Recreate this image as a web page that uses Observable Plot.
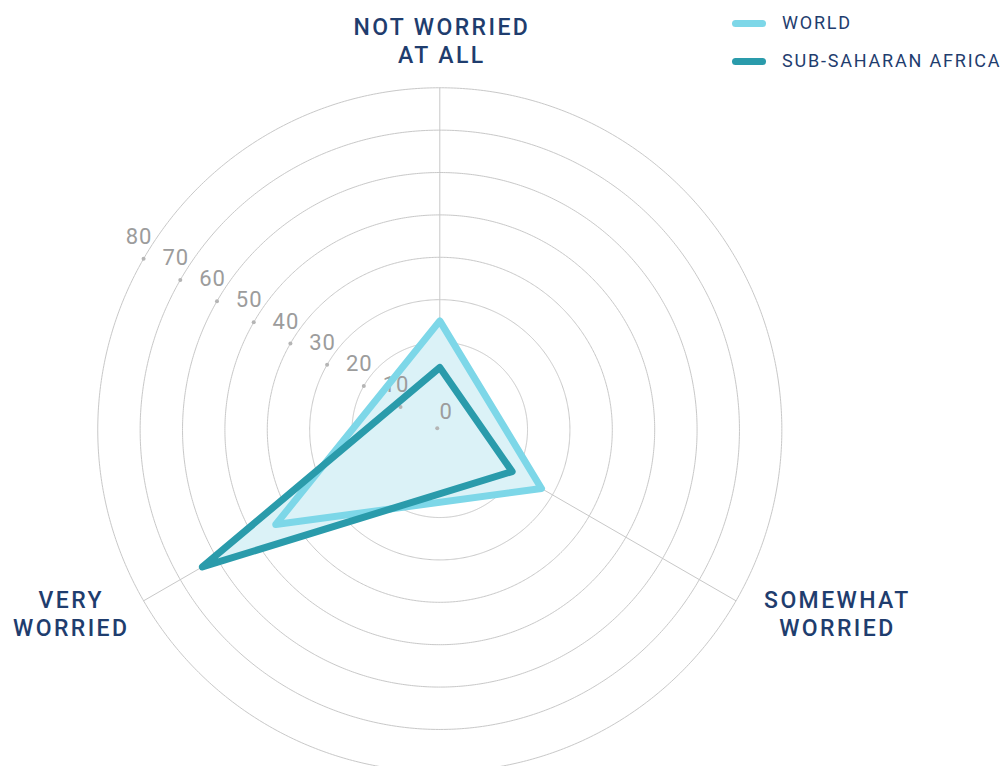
<!DOCTYPE html>
<html>
<head>
<meta charset="utf-8">
<script src="https://cdn.jsdelivr.net/npm/d3@7"></script>
<script src="https://cdn.jsdelivr.net/npm/@observablehq/plot@0.6"></script>
<style>
  html, body { margin: 0; padding: 0; background: #fff; }
  #wrap { position: relative; width: 1002px; height: 766px; overflow: hidden; font-family: Roboto, "Noto Sans", sans-serif; }
  #legend { position: absolute; left: 732px; top: 0; }
  .item { position: absolute; left: 0; display: flex; align-items: center; white-space: nowrap; height: 20px; }
  .sw { display: inline-block; width: 34px; height: 7px; border-radius: 4px; margin-right: 16px; }
  .lab { font-size: 18px; letter-spacing: 1.8px; color: #1f3d6e; line-height: 20px; }
</style>
</head>
<body>
<div id="wrap">
  <div id="chart"></div>
  <div id="legend"></div>
</div>
<script>
// ---- data ----
const categories = ["NOT WORRIED\nAT ALL", "SOMEWHAT\nWORRIED", "VERY\nWORRIED"];
const seriesNames = ["WORLD", "SUB-SAHARAN AFRICA"];
const worldValues = [25, 27, 44];
const ssaValues = [14, 19, 64];
const ringTicks = [0, 10, 20, 30, 40, 50, 60, 70, 80];
const seriesColors = ["#7dd7e8", "#2a9bab"];

// ---- helpers ----
const n = categories.length;
const lon = (i) => 180 - (i * 360) / n;       // clockwise from top
const lat = (v) => 90 - (v + 0.7);
const tickLon = 180 - 300;

const rows = [];
seriesNames.forEach((s, si) => {
  const vals = si === 0 ? worldValues : ssaValues;
  vals.forEach((v, i) => rows.push({series: s, i, value: v}));
});
const worldRows = rows.filter(d => d.series === seriesNames[0]);
const ssaRows = rows.filter(d => d.series === seriesNames[1]);

const catRows = categories.map((c, i) => ({c, i}));
const navy = "#1f3d6e";
const labelFont = {fontSize: 23, fontWeight: 500, fill: navy, lineHeight: 1.2, fontFamily: "Roboto, sans-serif"};

const chart = Plot.plot({
  width: 1002,
  height: 766,
  marginLeft: 108.7,
  marginRight: 232.1,
  marginTop: 98.7,
  marginBottom: 6.1,
  style: {background: "#fff", fontFamily: "Roboto, sans-serif", overflow: "visible"},
  projection: {
    type: "azimuthal-equidistant",
    rotate: [0, -90],
    domain: d3.geoCircle().center([0, 90]).radius(78)(),
    inset: 0,
    clip: false
  },
  marks: [
    // rings
    Plot.geo(ringTicks.filter(d => d > 0), {
      geometry: d => d3.geoCircle().center([0, 90]).radius(d + 0.7).precision(0.5)(),
      fill: "none", stroke: "#c8c8c8", strokeWidth: 1
    }),
    // spokes
    Plot.link(catRows, {
      x1: d => lon(d.i), y1: 90, x2: d => lon(d.i), y2: lat(80),
      stroke: "#c8c8c8", strokeWidth: 1
    }),
    // fills
    Plot.line(worldRows, {x: d => lon(d.i), y: d => lat(d.value), curve: "linear-closed", fill: "#dbf2f7", stroke: "none"}),
    Plot.line(ssaRows, {x: d => lon(d.i), y: d => lat(d.value), curve: "linear-closed", fill: "#dbf2f7", stroke: "none"}),
    // tick dots and labels
    Plot.dot(ringTicks, {x: tickLon, y: d => lat(d), r: 2, fill: "#b5b5b5", stroke: "none"}),
    Plot.text(ringTicks.filter(d => d > 0), {x: tickLon, y: d => lat(d), text: d => String(d), dx: -4.5, dy: -22, fontSize: 22, fill: "#9c9c9c"}),
    Plot.text(ringTicks.filter(d => d === 0), {x: tickLon, y: d => lat(d), text: d => String(d), dx: 9, dy: -16, fontSize: 22, fill: "#9c9c9c"}),
    // strokes
    Plot.line(worldRows, {x: d => lon(d.i), y: d => lat(d.value), curve: "linear-closed", stroke: seriesColors[0], strokeWidth: 7, strokeLinejoin: "round", strokeLinecap: "round"}),
    Plot.line(ssaRows, {x: d => lon(d.i), y: d => lat(d.value), curve: "linear-closed", stroke: seriesColors[1], strokeWidth: 7, strokeLinejoin: "round", strokeLinecap: "round"}),
    // axis labels
    Plot.text(catRows.filter(d => d.i === 0), {x: d => lon(d.i), y: lat(91), text: "c", dx: 2, dy: -1, ...labelFont}),
    Plot.text(catRows.filter(d => d.i === 1), {x: d => lon(d.i), y: lat(91), text: "c", dx: 61, dy: -11, ...labelFont}),
    Plot.text(catRows.filter(d => d.i === 2), {x: d => lon(d.i), y: lat(91), text: "c", dx: -32, dy: -11, ...labelFont})
  ]
});
// letter spacing applied directly to the text elements
chart.querySelectorAll('g[font-size="23"] text, g[font-size="23"] tspan').forEach(t => {
  t.setAttribute("letter-spacing", "2.4");
  t.style.letterSpacing = "2.4px";
});
chart.querySelectorAll('g[font-size="22"] text').forEach(t => {
  t.setAttribute("letter-spacing", "1");
  t.style.letterSpacing = "1px";
});
document.getElementById("chart").appendChild(chart);

// legend
const legend = document.getElementById("legend");
seriesNames.forEach((s, i) => {
  const item = document.createElement("div");
  item.className = "item";
  item.style.top = (13.3 + i * 37.7) + "px";
  const sw = document.createElement("span");
  sw.className = "sw";
  sw.style.background = seriesColors[i];
  const lab = document.createElement("span");
  lab.className = "lab";
  lab.textContent = s;
  item.appendChild(sw);
  item.appendChild(lab);
  legend.appendChild(item);
});
</script>
</body>
</html>
